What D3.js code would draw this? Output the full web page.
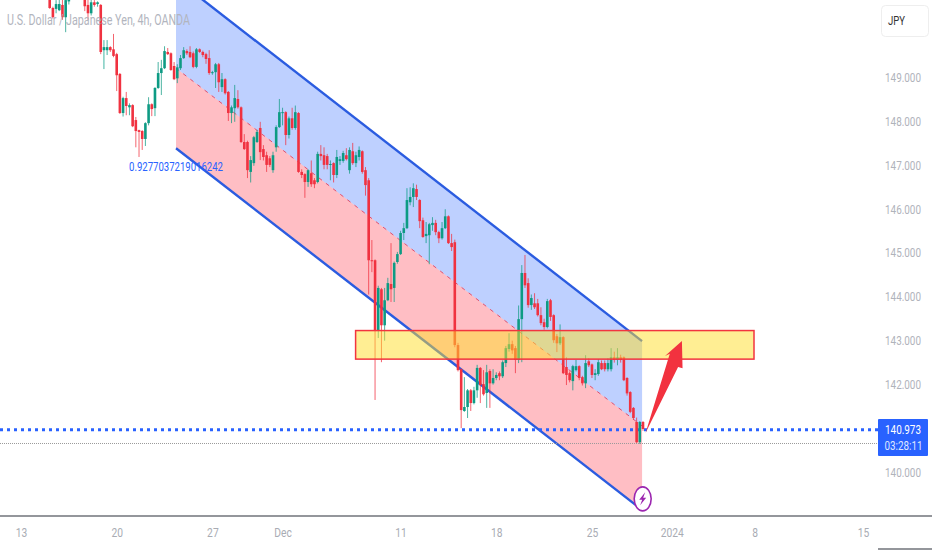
<!DOCTYPE html>
<html><head><meta charset="utf-8">
<script src="https://cdn.jsdelivr.net/npm/d3@7/dist/d3.min.js"></script>
<style>html,body{margin:0;padding:0;background:#fff}svg{display:block}text{font-family:Roboto,"Liberation Sans",sans-serif}</style>
</head><body><svg id="c" width="932" height="550"></svg>
<script>
const firstIndex = 9;
const opens = [
150.80,150.57,150.55,150.52,150.64,150.36,150.72,150.85,151.05,151.2,
151.1,150.8,150.64,150.45,150.7,150.66,150.64,149.61,149.61,149.68,
149.63,149.52,149.07,148.18,148.52,148.31,148.36,148.02,147.79,147.77,
147.59,147.95,148.38,148.29,148.75,149.09,149.2,149.57,149.54,149.25,
148.97,149.2,149.43,149.59,149.57,149.54,149.23,149.63,149.57,149.52,
149.43,149.09,149.11,149.29,148.77,148.95,148.66,148.18,148.29,148.5,
148.31,147.52,147.52,146.84,147.04,147.52,147.84,147.36,147.22,147.15,
146.88,147.4,147.86,148.18,148.2,147.68,148.06,147.84,148.18,146.84,
146.79,146.61,146.81,146.65,146.61,147.25,147.22,147.2,147,147.04,
146.77,147.09,147.09,147.22,146.88,147.31,147.04,147.18,147.31,146.88,
146.65,144.83,144.83,143.24,144.17,143.35,143.92,144.29,144.2,144.79,
144.97,145.45,145.56,146.15,146.27,146.45,146.2,145.74,145.38,145.4,
145.63,145.68,145.47,145.33,145.56,145.83,145.22,145.24,142.9,142.35,
141.4,141.49,141.87,141.58,141.87,142.38,142.01,141.81,142.31,142.03,
142.15,142.26,142.19,142.49,142.81,142.92,142.83,142.56,143.49,144.54,
144.31,143.81,143.85,143.85,143.58,143.42,143.31,143.92,143.58,143.1,
142.94,143.08,142.4,142.26,142.08,142.33,142.42,142.17,142.03,142.53,
142.46,142.22,142.24,142.49,142.49,142.35,142.35,142.62,142.56,142.62,
142.62,142.15,141.83,141.47,141.15,140.69,141.15];
const highs = [
150.9,150.6,150.75,150.8,150.8,150.85,150.9,151.2,151.3,151.3,
151.2,150.9,150.8,150.8,150.75,150.72,150.66,149.84,149.84,149.7,
149.98,149.55,149.09,148.55,148.66,148.4,148.38,148.09,147.8,147.79,
147.97,148.54,148.4,148.77,149.34,149.39,149.7,149.66,149.56,149.34,
149.29,149.5,149.68,149.63,149.7,149.58,149.66,149.65,149.6,149.55,
149.61,149.14,149.32,149.32,149.09,148.97,148.68,148.35,148.82,148.7,
148.33,147.7,147.55,147.2,147.66,147.8,147.98,147.45,147.3,147.2,
147.3,147.9,148.5,148.3,148.22,148.1,148.3,148.35,148.2,146.9,
146.81,146.9,147.1,146.7,147.3,147.45,147.4,147.25,147.1,147.06,
147.34,147.2,147.32,147.38,147.4,147.5,147.3,147.42,147.33,146.95,
146.7,145.29,144.85,144.25,144.2,144.2,144.43,145.22,144.8,145.02,
145.5,145.68,146.47,146.49,146.58,146.55,146.22,145.8,145.7,145.68,
145.81,145.75,145.5,145.7,145.99,145.85,145.43,145.3,142.95,142.37,
142.17,141.9,141.9,141.95,142.45,142.4,142.33,142.45,142.35,142.35,
142.28,142.3,142.55,142.88,143.17,143,142.88,143.8,144.72,144.95,
144.42,144.05,144.08,143.95,143.76,143.5,143.95,143.95,143.6,143.15,
143.37,143.1,142.62,142.3,142.45,142.56,142.44,142.2,142.67,142.6,
142.48,142.35,142.58,142.55,142.55,142.6,142.83,142.75,142.83,142.68,
142.64,142.17,141.85,141.49,141.25,141.17,141.17];
const lows = [
150.55,150.33,150.45,150.5,150.3,150.02,150.65,150.8,151,151,
150.9,150.5,150.3,150.4,150.6,150.6,149.52,149.18,149.5,149.57,
149.45,148.68,148.16,148.1,148.13,148.13,147.86,147.4,147.18,147.34,
147.43,147.9,148.11,148.11,148.73,148.59,149.18,149.5,149.14,148.93,
148.86,149.16,149.41,149.5,149.43,149.2,149.2,149.55,149.45,149.3,
149.05,149.05,148.75,148.66,148.66,148.6,148,147.95,147.98,148.28,
147.5,147.34,146.7,146.6,146.98,147.5,147.11,147.1,146.84,146.95,
146.82,147.3,147.84,147.9,147.45,147.6,147.8,147.8,146.82,146.7,
146.25,146.5,146.5,146.47,146.58,147.1,146.9,146.9,146.65,146.6,
146.7,147,147.05,147.1,146.8,147,146.95,147.1,146.8,146.3,
144.05,144.56,141.65,143.06,142.51,143,143.9,143.88,143.88,144.75,
144.95,145.29,145.54,146.08,146.04,146.2,145.56,145.34,145.22,144.74,
145.5,145.4,145.22,145.3,145.54,145.2,145.04,142.85,142.3,141.01,
141.38,141.24,141.4,141.55,141.7,141.58,141.75,141.47,141.47,142,
142.1,142.1,142.15,142.4,142.75,142.7,142.26,142.49,142.51,144.2,
143.75,143.7,143.72,143.55,143.35,143.25,143.28,143.45,142.95,142.74,
142.9,142.24,141.99,142.05,141.87,142.3,142.1,141.98,141.92,142.4,
142.15,142.1,142.2,142.33,142.3,142.3,142.3,142.5,142.44,142.5,
142.08,141.75,141.35,141.2,140.67,140.65,140.95];
const closes = [
150.57,150.36,150.66,150.66,150.36,150.75,150.8,151.05,151.2,151.1,
151,150.61,150.45,150.7,150.64,150.7,149.57,149.68,149.68,149.61,
149.48,149.04,148.18,148.52,148.34,148.36,147.88,147.77,147.75,147.59,
147.95,148.38,148.27,148.75,149.09,149.2,149.59,149.52,149.16,148.95,
149.22,149.43,149.61,149.54,149.45,149.23,149.63,149.57,149.5,149.41,
149.09,149.11,149.29,148.88,148.95,148.63,148.18,148.31,148.52,148.31,
147.52,147.36,146.88,147.11,147.63,147.75,147.29,147.18,147,147,
147.22,147.86,148.2,148.2,147.68,148.06,147.84,148.2,146.84,146.77,
146.61,146.88,146.56,146.56,147.25,147.2,147,147,147.02,146.77,
147.18,147.13,147.27,147.13,147.34,147.04,147.22,147.34,146.84,146.54,
144.83,144.81,143.24,144.2,143.35,143.92,144.31,144.17,144.77,144.97,
145.45,145.56,146.2,146.27,146.47,146.27,145.72,145.36,145.43,145.65,
145.68,145.47,145.33,145.56,145.83,145.22,145.13,142.9,142.33,141.42,
141.49,141.87,141.58,141.87,142.38,141.99,141.78,142.28,142.03,142.15,
142.22,142.19,142.51,142.83,142.92,142.78,142.56,143.49,144.54,144.26,
143.81,143.97,143.76,143.58,143.4,143.31,143.9,143.54,143.01,142.94,
143.08,142.26,142.22,142.1,142.42,142.42,142.15,142.03,142.49,142.44,
142.22,142.26,142.51,142.35,142.35,142.49,142.62,142.56,142.62,142.56,
142.1,141.8,141.38,141.24,140.69,141.15,140.99];

const priceTicks = [149,148,147,146,145,144,143,142,140];
const timeTickIndex = [0,30,60,82,119,149,179,204,230,264];
const timeTickLabels = ["13","20","27","Dec","11","18","25","2024","8","15"];
const channelIndex = [48.6,194.7];
const channelUpper = [151.23,142.99];
const channelMiddle = [149.2,141.06];
const channelLower = [147.38,139.15];
const zoneIndex = [104.9,229.8];
const zonePrice = [143.23,142.58];
const arrowIndex = [195.8,203.4,201.9,207.2,207.4,206];
const arrowPrice = [140.9,142.7,142.65,142.99,142.37,142.4];
const lastPrice = 140.973;
const prevPrice = 140.66;
const lastLabel = "140.973", countdownLabel = "03:28:11";
const titleText = "U.S. Dollar / Japanese Yen, 4h, OANDA";
const channelLabel = "0.9277037219016242";
const currency = "JPY";

const W=932,H=550,axisY=516,plotR=878;
const svg=d3.select("#c");
const x=d3.scaleLinear().domain([0,195]).range([21,643]);
const y=d3.scaleLinear().domain([140,149]).range([472.5,77]);
const defs=svg.append("defs");
defs.append("clipPath").attr("id","plot").append("rect").attr("width",plotR).attr("height",axisY);
defs.append("filter").attr("id","soft").append("feGaussianBlur").attr("stdDeviation",0.3);
const plot=svg.append("g").attr("clip-path","url(#plot)");

const fit=(sel,width)=>sel.attr("textLength",width).attr("lengthAdjust","spacingAndGlyphs");

const band=(a,b,col)=>plot.append("path")
  .attr("d",d3.area().x(d=>x(d)).y0((d,i)=>y(a[i])).y1((d,i)=>y(b[i]))(channelIndex))
  .attr("fill",col);
band(channelUpper,channelMiddle,"rgba(41,98,255,0.3)");
band(channelMiddle,channelLower,"rgba(255,40,60,0.3)");
const ln=(a,col,w,dash)=>plot.append("path")
  .attr("d",d3.line().x(d=>x(d)).y((d,i)=>y(a[i]))(channelIndex))
  .attr("fill","none").attr("stroke",col).attr("stroke-width",w).attr("stroke-dasharray",dash||null);
ln(channelMiddle,"#e0506e",1,"4 5");
ln(channelUpper,"#2b5ce0",2.4);
ln(channelLower,"#2b5ce0",2.4);

plot.append("line").attr("x1",0).attr("x2",plotR).attr("y1",y(prevPrice)).attr("y2",y(prevPrice))
  .attr("stroke","#9a9a9a").attr("stroke-width",1).attr("stroke-dasharray","1 1");
plot.append("line").attr("x1",0).attr("x2",plotR).attr("y1",y(lastPrice)).attr("y2",y(lastPrice))
  .attr("stroke","#2962ff").attr("stroke-width",2.8).attr("stroke-dasharray","3 4");

const data=opens.map((o,i)=>({i:i+firstIndex,o,h:highs[i],l:lows[i],c:closes[i]}));
const colour=d=>d.c>=d.o?"#0f9b84":"#f0303f";
const cg=plot.append("g").attr("filter","url(#soft)");
cg.selectAll("line").data(data).join("line")
  .attr("x1",d=>x(d.i)).attr("x2",d=>x(d.i)).attr("y1",d=>y(d.h)).attr("y2",d=>y(d.l))
  .attr("stroke",colour).attr("stroke-width",1).attr("stroke-opacity",0.75);
cg.selectAll("rect").data(data).join("rect")
  .attr("x",d=>x(d.i)-1.3).attr("width",2.6)
  .attr("y",d=>y(Math.max(d.o,d.c))).attr("height",d=>Math.max(1,Math.abs(y(d.o)-y(d.c))))
  .attr("fill",colour);

svg.append("rect").attr("x",x(zoneIndex[0])).attr("width",x(zoneIndex[1])-x(zoneIndex[0]))
  .attr("y",y(zonePrice[0])).attr("height",y(zonePrice[1])-y(zonePrice[0]))
  .attr("fill","rgba(255,222,40,0.5)").attr("stroke","#f2343f").attr("stroke-width",1.5);

svg.append("polygon").attr("points",arrowIndex.map((d,i)=>x(d)+","+y(arrowPrice[i])).join(" ")).attr("fill","#f2323f");

const ic=svg.append("g").attr("transform",`translate(${x(194.9)},${y(139.4)})`);
ic.append("ellipse").attr("rx",8.5).attr("ry",12).attr("fill","#fff").attr("stroke","#9c27b0").attr("stroke-width",1.6);
ic.append("path").attr("d","M2.5,-6.5 L-3.5,1 L-0.5,1 L-2.5,6.5 L3.5,-1 L0.5,-1 Z").attr("fill","#9c27b0");

const xAxis=d3.axisBottom(x).tickValues(timeTickIndex).tickFormat((d,i)=>timeTickLabels[i]).tickSize(0).tickPadding(12);
const gx=svg.append("g").attr("transform",`translate(0,${axisY})`).call(xAxis);
gx.select(".domain").remove();
gx.selectAll("text").attr("fill","#a9acb4").attr("font-size",12.5).each(function(){
  d3.select(this).call(fit,this.getComputedTextLength()*0.82);
});
svg.append("line").attr("x1",0).attr("x2",W).attr("y1",axisY).attr("y2",axisY).attr("stroke","#2a2e39").attr("stroke-width",1.2);
svg.append("line").attr("x1",plotR).attr("x2",W).attr("y1",H-1).attr("y2",H-1).attr("stroke","#2a2e39").attr("stroke-width",1.2);

const yAxis=d3.axisRight(y).tickValues(priceTicks).tickFormat(d3.format(".3f")).tickSize(0).tickPadding(0);
const gy=svg.append("g").attr("transform","translate(885,0)").call(yAxis);
gy.select(".domain").remove();
gy.selectAll("text").attr("fill","#b0b3bb").attr("font-size",13).call(fit,36);

svg.append("text").attr("x",7).attr("y",25).attr("fill","#b2b5be").attr("font-size",14.5).call(fit,183).text(titleText);
svg.append("text").attr("x",129).attr("y",171).attr("fill","#2962ff").attr("font-size",13).call(fit,94).text(channelLabel);

svg.append("rect").attr("x",878).attr("y",419).attr("width",50).attr("height",37).attr("rx",1).attr("fill","#2962ff");
svg.append("text").attr("x",885).attr("y",434).attr("fill","#fff").attr("font-size",12.5).call(fit,36).text(lastLabel);
svg.append("text").attr("x",884.5).attr("y",450).attr("fill","#dfe6ff").attr("font-size",12).call(fit,38).text(countdownLabel);

svg.append("rect").attr("x",881.5).attr("y",5.5).attr("width",47).attr("height",31).attr("rx",4).attr("fill","#fff").attr("stroke","#eeeeee");
svg.append("text").attr("x",888).attr("y",25).attr("fill","#333").attr("font-size",13).call(fit,17).text(currency);
</script></body></html>
